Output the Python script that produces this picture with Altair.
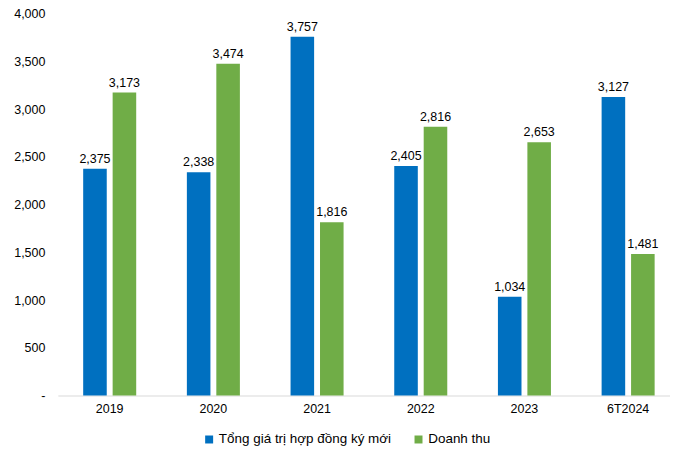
import altair as alt
import pandas as pd

categories = ["2019", "2020", "2021", "2022", "2023", "6T2024"]
contracts = [2375, 2338, 3757, 2405, 1034, 3127]
revenue = [3173, 3474, 1816, 2816, 2653, 1481]
series_names = ["Tổng giá trị hợp đồng ký mới", "Doanh thu"]
colors = ["#0070C0", "#70AD47"]

rows = []
for c, a, b in zip(categories, contracts, revenue):
    rows.append({"cat": c, "series": series_names[0], "value": a})
    rows.append({"cat": c, "series": series_names[1], "value": b})
df = pd.DataFrame(rows)

font = "Liberation Sans"

x = alt.X("cat:N", sort=categories, title=None,
          scale=alt.Scale(paddingInner=0, paddingOuter=0, range=[0, 624]),
          axis=alt.Axis(labelAngle=0, ticks=False, domainColor="#D9D9D9",
                        labelFontSize=12.5, labelColor="#000000", labelPadding=7,
                        labelFont=font))
xo = alt.XOffset("series:N", sort=series_names,
                 scale=alt.Scale(paddingInner=0.2, paddingOuter=0.86))
y = alt.Y("value:Q", title=None,
          scale=alt.Scale(domain=[0, 4000]),
          axis=alt.Axis(values=list(range(0, 4001, 500)), grid=False, domain=False,
                        ticks=False, labelFontSize=12.5, labelColor="#000000",
                        labelFont=font, labelPadding=13,
                        labelExpr="datum.value == 0 ? '-' : format(datum.value, ',')"))
color = alt.Color("series:N", sort=series_names,
                  scale=alt.Scale(domain=series_names, range=colors),
                  legend=alt.Legend(title=None, orient="none", direction="horizontal",
                                    legendX=145, legendY=420, symbolType="square",
                                    symbolSize=64, symbolStrokeWidth=0,
                                    labelFontSize=13.5, labelFont=font,
                                    labelColor="#000000", labelOffset=3,
                                    columnPadding=20, labelLimit=300))

base = alt.Chart(df).encode(x=x, xOffset=xo, y=y)
bars = base.mark_bar().encode(color=color)
labels = base.mark_text(dy=-10, fontSize=12.5, font=font, color="#000000").encode(
    text=alt.Text("value:Q", format=","))

chart = (bars + labels).properties(
    width=614, height=383,
    autosize=alt.AutoSizeParams(type="none"),
    padding={"left": 50, "top": 5, "right": 0, "bottom": 55},
).configure_view(stroke=None)

chart.save("out.html", embed_options={"renderer": "svg", "actions": False})
